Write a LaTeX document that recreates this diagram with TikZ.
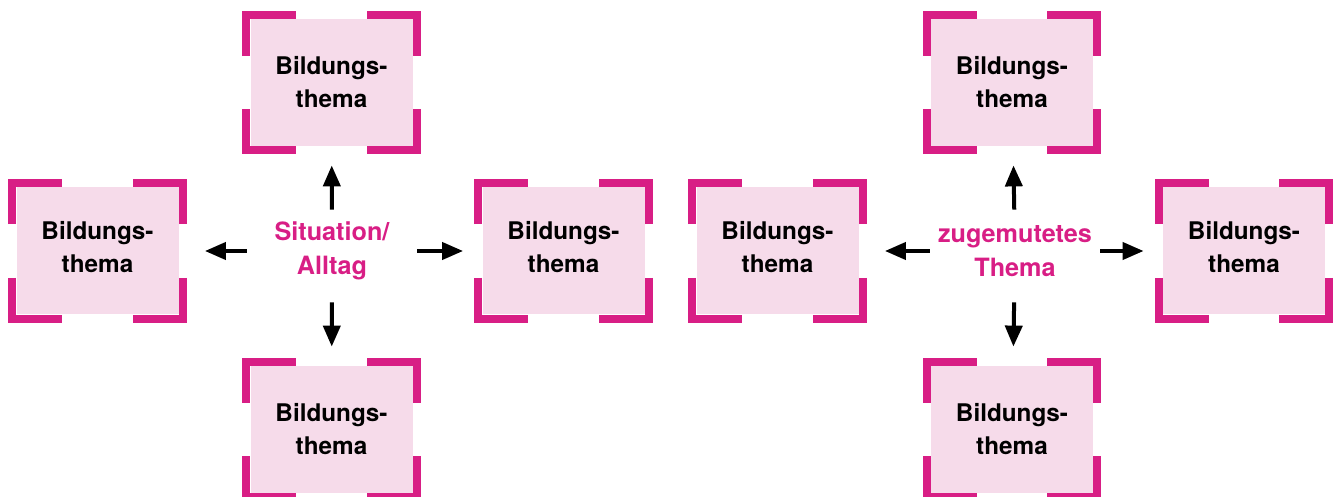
\documentclass[tikz,border=0pt]{standalone}
\usepackage{fontspec}
\setmainfont{TeX Gyre Heros}
\usetikzlibrary{arrows.meta}
\definecolor{themapink}{RGB}{216,30,133}
\definecolor{themafill}{RGB}{246,219,234}

\begin{document}
\begin{tikzpicture}[x=0.5pt,y=-0.5pt,
  thema/.style={fill=themafill, minimum width=81pt, minimum height=63.5pt, inner sep=0pt,
    align=center, font=\bfseries\fontsize{12.15}{16.5}\selectfont},
  seitlich/.style={thema, text depth=4.5pt},
  hub/.style={minimum width=85pt, minimum height=46pt, inner sep=0pt, align=center,
    text=themapink, font=\bfseries\fontsize{12.6}{17}\selectfont},
  ecke/.style={draw=themapink, line width=4pt},
  pfeil/.style={line width=2pt, -{Triangle[length=10.5pt,width=8.5pt]}, shorten >=9.5pt}]
\useasboundingbox (0,0) rectangle (1334,497);

% Situation / Alltag
\node[thema] (sitTop) at (331.5,82.5) {Bildungs-\\thema};
\node[seitlich] (sitLeft) at (97.5,251) {Bildungs-\\thema};
\node[seitlich] (sitRight) at (563.5,251) {Bildungs-\\thema};
\node[thema] (sitBottom) at (331.5,429.5) {Bildungs-\\thema};
\node[hub] (sit) at (332,251) {Situation/\\Alltag};

% zugemutetes Thema
\node[thema] (zumTop) at (1012,82.5) {Bildungs-\\thema};
\node[seitlich] (zumLeft) at (777.5,251) {Bildungs-\\thema};
\node[seitlich] (zumRight) at (1244,251) {Bildungs-\\thema};
\node[thema] (zumBottom) at (1012,429.5) {Bildungs-\\thema};
\node[hub] (zum) at (1015,251) {zugemutetes\\Thema};

% corner brackets
\foreach \n in {sitTop,sitLeft,sitRight,sitBottom,zumTop,zumLeft,zumRight,zumBottom}
  \foreach \a/\sx/\sy in {north west/1/-1, north east/-1/-1, south west/1/1, south east/-1/1}
    \draw[ecke] ([shift={(-\sx*2pt,-\sy*2pt)}]\n.\a) ++(0pt,\sy*20.5pt)
      -- ++(0pt,-\sy*20.5pt) -- ++(\sx*25pt,0pt);

\draw[pfeil, shorten <=-2.5pt] (sit) -- (sitTop);
\draw[pfeil, shorten >=13pt] (sit) -- (sitLeft);
\draw[pfeil] (sit) -- (sitRight);
\draw[pfeil, shorten <=2.5pt] (sit) -- (sitBottom);

\draw[pfeil, shorten <=-2.5pt] (zum) -- (zumTop);
\draw[pfeil, shorten >=13pt] (zum) -- (zumLeft);
\draw[pfeil] (zum) -- (zumRight);
\draw[pfeil, shorten <=2.5pt] (zum) -- (zumBottom);
\end{tikzpicture}
\end{document}
